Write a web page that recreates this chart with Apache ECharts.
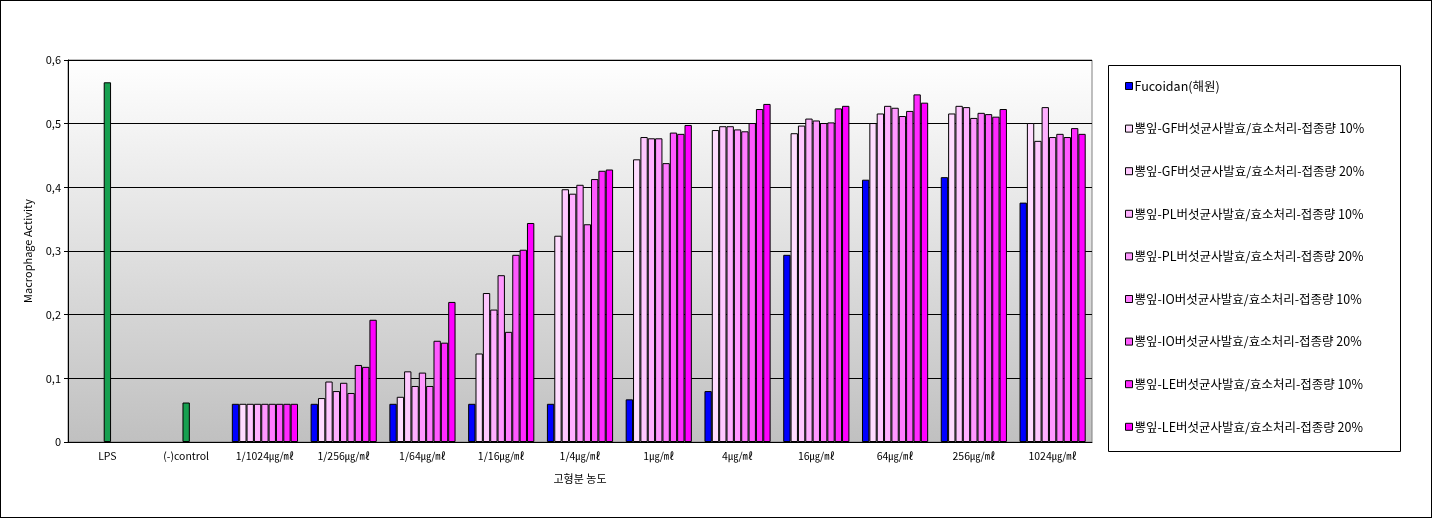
<!DOCTYPE html>
<html><head><meta charset="utf-8">
<script src="https://cdn.jsdelivr.net/npm/echarts@6/dist/echarts.min.js"></script>
<style>html,body{margin:0;padding:0;background:#fff}#c{width:1432px;height:518px;box-sizing:border-box;border:1px solid #000}</style>
</head><body><div id="c"></div>
<script>
const categories = ['LPS','(-)control','1/1024㎍/㎖','1/256㎍/㎖','1/64㎍/㎖','1/16㎍/㎖','1/4㎍/㎖','1㎍/㎖','4㎍/㎖','16㎍/㎖','64㎍/㎖','256㎍/㎖','1024㎍/㎖'];
const seriesNames = ['Fucoidan(해원)','뽕잎-GF버섯균사발효/효소처리-접종량 10%','뽕잎-GF버섯균사발효/효소처리-접종량 20%','뽕잎-PL버섯균사발효/효소처리-접종량 10%','뽕잎-PL버섯균사발효/효소처리-접종량 20%','뽕잎-IO버섯균사발효/효소처리-접종량 10%','뽕잎-IO버섯균사발효/효소처리-접종량 20%','뽕잎-LE버섯균사발효/효소처리-접종량 10%','뽕잎-LE버섯균사발효/효소처리-접종량 20%'];
// Control values (LPS, (-)control), drawn in the middle bar slot in green
const controlValues = [0.565, 0.062];
const fucoidan = [null,null,0.06,0.06,0.06,0.06,0.06,0.067,0.080,0.294,0.412,0.416,0.376];
const gf10 = [null,null,0.06,0.069,0.071,0.139,0.324,0.444,0.490,0.485,0.501,0.516,0.501];
const gf20 = [null,null,0.06,0.095,0.111,0.234,0.397,0.479,0.496,0.497,0.516,0.528,0.473];
const pl10 = [null,null,0.06,0.080,0.088,0.208,0.390,0.477,0.496,0.508,0.528,0.526,0.526];
const pl20 = [null,null,0.06,0.093,0.109,0.262,0.404,0.477,0.491,0.505,0.525,0.509,0.479];
const io10 = [null,null,0.06,0.077,0.088,0.173,0.342,0.438,0.488,0.501,0.512,0.517,0.484];
const io20 = [null,null,0.06,0.121,0.159,0.294,0.413,0.486,0.501,0.502,0.520,0.515,0.479];
const le10 = [null,null,0.06,0.118,0.156,0.302,0.426,0.484,0.523,0.524,0.546,0.511,0.493];
const le20 = [null,null,0.06,0.192,0.220,0.344,0.428,0.498,0.531,0.528,0.533,0.523,0.484];
const yTicks = [0,0.1,0.2,0.3,0.4,0.5,0.6];

const allData = [fucoidan,gf10,gf20,pl10,pl20,io10,io20,le10,le20];
const colors = ['#0000ff','#ffdcff','#ffc8ff','#ffb0ff','#ff98ff','#ff7cff','#ff5aff','#ff2aff','#ff00ff'];
const green = '#17a050';
const font = '"Noto Sans CJK KR", "Noto Sans", sans-serif';

const series = allData.map((d, i) => {
  const data = d.map(v => v == null ? '-' : v);
  if (i === 4) {
    data[0] = {value: controlValues[0], itemStyle: {color: green}};
    data[1] = {value: controlValues[1], itemStyle: {color: green}};
  }
  return {
    name: seriesNames[i], type: 'bar', data: data,
    barGap: '0%', barCategoryGap: '16%',
    itemStyle: {color: colors[i], borderColor: '#000', borderWidth: 1},
    emphasis: {disabled: true}
  };
});

const chart = echarts.init(document.getElementById('c'), null, {renderer: 'canvas'});
chart.setOption({
  animation: false,
  color: colors,
  textStyle: {fontFamily: font},
  grid: {left: 67, right: 339, top: 59, bottom: 75, show: true,
    borderColor: '#808080', borderWidth: 1,
    backgroundColor: {type: 'linear', x: 0, y: 0, x2: 0, y2: 1,
      colorStops: [{offset: 0, color: '#ffffff'}, {offset: 1, color: '#c0c0c0'}]}},
  xAxis: {type: 'category', data: categories,
    axisLine: {lineStyle: {color: '#000', width: 1}},
    axisTick: {show: false},
    axisLabel: {color: '#000', fontSize: 10.5, fontFamily: font, margin: 9, interval: 0},
    name: '고형분 농도', nameLocation: 'middle', nameGap: 31,
    nameTextStyle: {color: '#000', fontSize: 11, fontFamily: font}},
  yAxis: {type: 'value', min: 0, max: 0.6, interval: 0.1,
    axisLine: {show: true, lineStyle: {color: '#000'}},
    axisTick: {show: true, length: 4, lineStyle: {color: '#000'}},
    splitLine: {lineStyle: {color: '#000', width: 1}},
    axisLabel: {color: '#000', fontSize: 11, fontFamily: font, margin: 7,
      formatter: v => { const t = yTicks.find(x => Math.abs(x - v) < 1e-9); return (t === 0 ? '0' : String(+v.toFixed(1)).replace('.', ',')); }},
    name: 'Macrophage Activity', nameLocation: 'middle', nameGap: 35, nameRotate: 90,
    nameTextStyle: {color: '#000', fontSize: 11, fontFamily: font}},
  legend: {orient: 'vertical', left: 1119, top: 73, itemWidth: 7, itemHeight: 7,
    itemGap: 28.6, icon: 'rect',
    itemStyle: {borderColor: '#000', borderWidth: 1},
    textStyle: {color: '#000', fontSize: 12.5, fontFamily: font, height: 14, lineHeight: 14, padding: [0,0,0,-3]},
    selectedMode: false},
  graphic: [{type: 'rect', shape: {x: 1107.5, y: 64.5, width: 292, height: 386},
    style: {fill: 'none', stroke: '#000', lineWidth: 1}, silent: true}],
  series: series
});
</script></body></html>
